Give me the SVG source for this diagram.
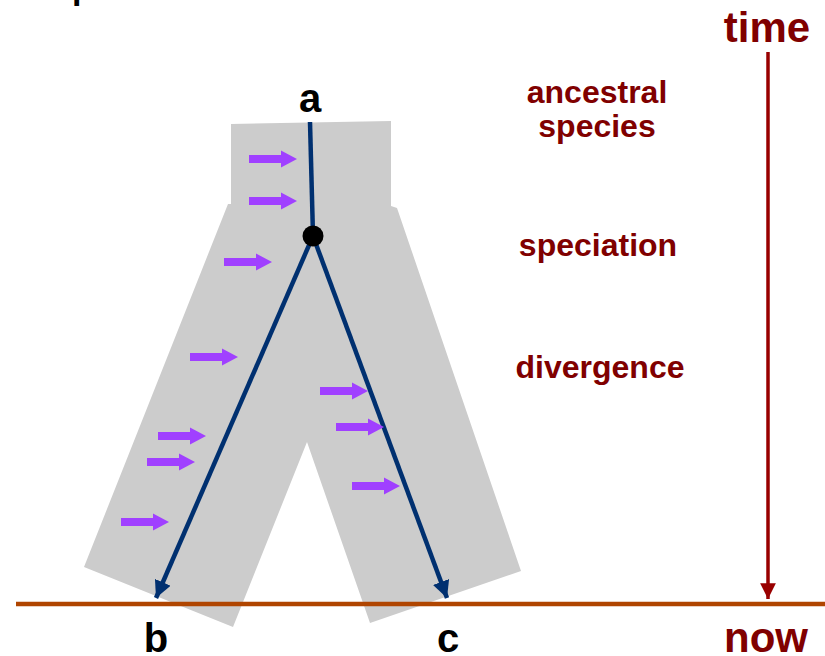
<svg xmlns="http://www.w3.org/2000/svg" xmlns:xlink="http://www.w3.org/1999/xlink" width="825" height="656" viewBox="0 0 825 656">
<style>
.lbl{font-family:"Liberation Sans",Arial,sans-serif;font-weight:bold;fill:#800000;text-anchor:middle}
.big{font-family:"Liberation Sans",Arial,sans-serif;font-weight:bold;fill:#000;text-anchor:middle;font-size:40px}
.lin{stroke:#003070;stroke-width:4.5;fill:none}
.pa{fill:#A040FF}
</style>
<defs>
<path id="parrow" d="M-48,-4 H-16 V-8.5 L0,0 L-16,8.5 V4 H-48 Z"/>
<marker id="bh" viewBox="0 0 10 10" refX="10" refY="5" markerWidth="3.8" markerHeight="3.8" markerUnits="strokeWidth" orient="auto">
<path d="M0,0 L10,5 L0,10 Z" fill="#003070"/>
</marker>
<marker id="th" viewBox="0 0 10 10" refX="10" refY="5" markerWidth="4.5" markerHeight="4.5" markerUnits="strokeWidth" orient="auto">
<path d="M0,0 L10,5 L0,10 Z" fill="#990000"/>
</marker>
</defs>
<text x="72" y="-1" font-family="Liberation Sans,Arial,sans-serif" font-size="34" font-weight="bold" fill="#000">p</text>
<g id="tree-shape">
<polygon points="231,124 391,121 391,206 397,208 521,571 370,623 307,442 233,627 84,567 228,204 231,204" fill="#CCCCCC"/>
</g>
<g id="connectors">
<line class="lin" x1="310" y1="122" x2="313" y2="236"/>
<line class="lin" x1="313" y1="236" x2="156" y2="598" marker-end="url(#bh)"/>
<line class="lin" x1="313" y1="236" x2="447" y2="598" marker-end="url(#bh)"/>
<line x1="768" y1="52" x2="768" y2="599" stroke="#990000" stroke-width="3.5" marker-end="url(#th)"/>
<line x1="16" y1="604" x2="825" y2="604" stroke="#B04500" stroke-width="4.5"/>
</g>
<g id="node-speciation"><circle cx="313" cy="236" r="10.5" fill="#000"/></g>
<g id="migration-arrows" class="pa">
<use xlink:href="#parrow" x="297" y="159"/>
<use xlink:href="#parrow" x="297" y="201"/>
<use xlink:href="#parrow" x="272" y="262"/>
<use xlink:href="#parrow" x="238" y="357"/>
<use xlink:href="#parrow" x="206" y="436"/>
<use xlink:href="#parrow" x="195" y="462"/>
<use xlink:href="#parrow" x="169" y="522"/>
<use xlink:href="#parrow" x="368" y="391"/>
<use xlink:href="#parrow" x="384" y="427"/>
<use xlink:href="#parrow" x="400" y="486"/>
</g>
<g id="node-a"><text class="big" x="310" y="112">a</text></g>
<g id="node-b"><text class="big" x="156" y="652">b</text></g>
<g id="node-c"><text class="big" x="448" y="652">c</text></g>
<g id="labels">
<text class="lbl" x="597" y="103" font-size="32">ancestral</text>
<text class="lbl" x="597" y="137" font-size="32">species</text>
<text class="lbl" x="598" y="256" font-size="32">speciation</text>
<text class="lbl" x="600" y="378" font-size="32">divergence</text>
<text class="lbl" x="767" y="42" font-size="42">time</text>
<text class="lbl" x="766" y="652" font-size="42">now</text>
</g>
</svg>
